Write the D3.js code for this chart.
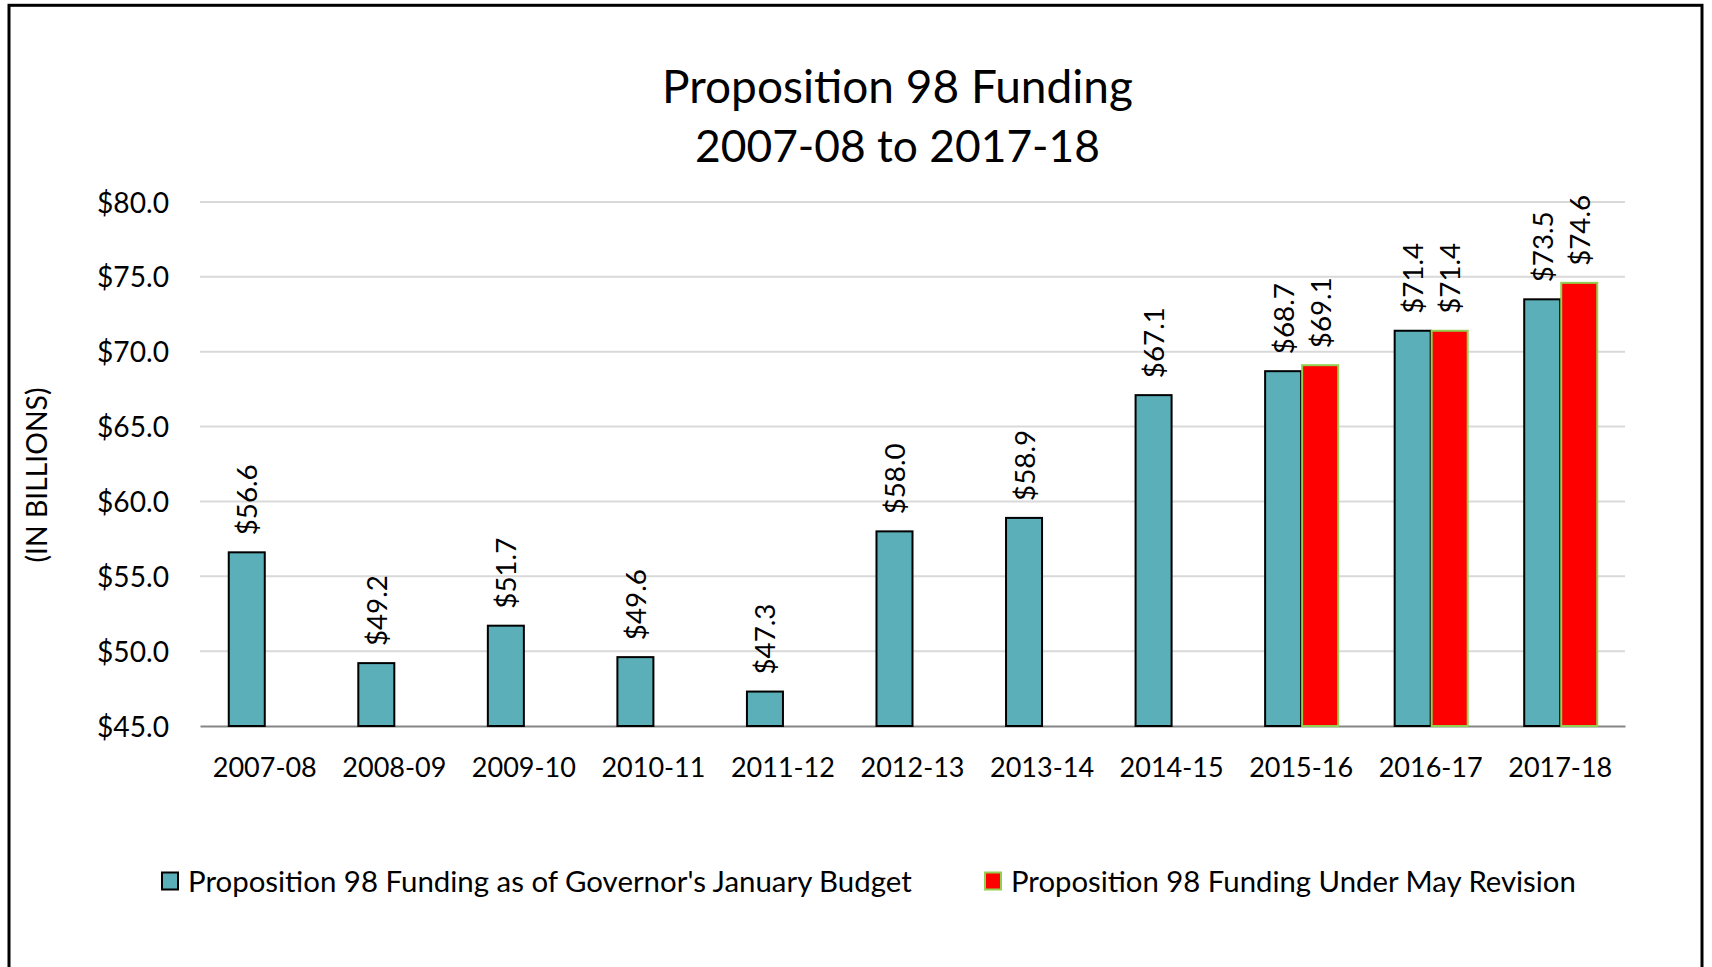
<!DOCTYPE html>
<html>
<head>
<meta charset="utf-8">
<script src="https://cdn.jsdelivr.net/npm/d3@7"></script>
<style>
  html, body { margin: 0; padding: 0; background: #fff; }
  svg { display: block; }
  text { font-family: Lato, "Open Sans", sans-serif; fill: #000; }
</style>
</head>
<body>
<svg id="chart" width="1712" height="967"></svg>
<script>
// ---- data ----
const categories = ["2007-08","2008-09","2009-10","2010-11","2011-12","2012-13","2013-14","2014-15","2015-16","2016-17","2017-18"];
const januaryBudget = [56.6, 49.2, 51.7, 49.6, 47.3, 58.0, 58.9, 67.1, 68.7, 71.4, 73.5];
const mayRevision   = [null, null, null, null, null, null, null, null, 69.1, 71.4, 74.6];
const seriesNames = ["Proposition 98 Funding as of Governor's January Budget", "Proposition 98 Funding Under May Revision"];
const yTicks = [45, 50, 55, 60, 65, 70, 75, 80];
const titleLines = ["Proposition 98 Funding", "2007-08 to 2017-18"];
const yAxisTitle = "(IN BILLIONS)";

// ---- layout ----
const svg = d3.select("#chart");
const W = 1712, H = 967;
const plot = { left: 200, right: 1625, top: 202, bottom: 726 };
const colors = ["#5BAFB9", "#FF0000"];
const strokes = ["#000000", "#92D050"];

// fit a text element's font-size so that its width equals target
function fit(sel, target) {
  sel.each(function() {
    const el = this;
    const fs = parseFloat(el.getAttribute("font-size")) || 20;
    const len = el.getComputedTextLength();
    if (len > 0) el.setAttribute("font-size", (fs * target / len).toFixed(2));
  });
}

svg.append("rect").attr("x", 0).attr("y", 0).attr("width", W).attr("height", H).attr("fill", "#fff");
// frame
svg.append("rect").attr("x", 9).attr("y", 5.3).attr("width", 1693).attr("height", 1000)
  .attr("fill", "none").attr("stroke", "#000").attr("stroke-width", 3);

// scales
const x0 = d3.scaleBand().domain(categories).range([plot.left, plot.right]).paddingInner(0).paddingOuter(0);
const x1 = d3.scaleBand().domain([0, 1]).range([0, x0.bandwidth()]).paddingInner(0).paddingOuter(0.75);
const y = d3.scaleLinear().domain([45, 80]).range([plot.bottom, plot.top]);

// gridlines
svg.append("g").selectAll("line").data(yTicks.filter(t => t > 45)).join("line")
  .attr("x1", plot.left).attr("x2", plot.right)
  .attr("y1", d => y(d)).attr("y2", d => y(d))
  .attr("stroke", "#D9D9D9").attr("stroke-width", 2);

// y axis
const yAxis = svg.append("g").attr("transform", `translate(${plot.left},0)`)
  .call(d3.axisLeft(y).tickValues(yTicks).tickFormat(d => "$" + d3.format(".1f")(d)).tickSize(0).tickPadding(31));
yAxis.select(".domain").remove();
yAxis.selectAll("text").attr("font-family", "Lato").attr("font-size", 28).attr("fill", "#000").attr("dy", "0.36em");
const tickLen = yAxis.selectAll("text").filter(d => d === 80).node().getComputedTextLength();
yAxis.selectAll("text").attr("font-size", 28 * 72 / tickLen);

// x axis
const xAxis = svg.append("g").attr("transform", `translate(0,${plot.bottom})`)
  .call(d3.axisBottom(x0).tickSize(0).tickPadding(0));
xAxis.select(".domain").attr("stroke", "#868686").attr("stroke-width", 2);
xAxis.selectAll("text").attr("font-family", "Lato").attr("font-size", 28).attr("fill", "#000")
  .attr("dy", 0).attr("y", 777 - plot.bottom);
const xl = xAxis.selectAll("text").filter(d => d === "2007-08").node().getComputedTextLength();
xAxis.selectAll("text").attr("font-size", 28 * 104 / xl);

// bars
const rows = categories.map((c, i) => ({ cat: c, vals: [januaryBudget[i], mayRevision[i]] }));
const groups = svg.append("g").selectAll("g").data(rows).join("g")
  .attr("transform", d => `translate(${x0(d.cat)},0)`);
groups.selectAll("rect").data(d => d.vals.map((v, s) => ({ v, s })).filter(e => e.v !== null)).join("rect")
  .attr("x", e => x1(e.s) + 1).attr("width", x1.bandwidth() - 1)
  .attr("y", e => y(e.v)).attr("height", e => plot.bottom - y(e.v))
  .attr("fill", e => colors[e.s]).attr("stroke", e => strokes[e.s]).attr("stroke-width", 2);

// data labels
const lbls = groups.selectAll("text").data(d => d.vals.map((v, s) => ({ v, s })).filter(e => e.v !== null)).join("text")
  .attr("transform", e => `translate(${x1(e.s) + x1.bandwidth() / 2 + 1},${y(e.v) - 17}) rotate(-90)`)
  .attr("dy", "0.36em").attr("text-anchor", "start")
  .attr("font-family", "Lato").attr("font-size", 26)
  .text(e => "$" + d3.format(".1f")(e.v));
const dl = lbls.filter(e => e.v === 56.6).node().getComputedTextLength();
lbls.attr("font-size", 26 * 71 / dl);

// title
const titleTargets = [471, 405];
const title = svg.append("g").selectAll("text").data(titleLines).join("text")
  .attr("x", 897.5).attr("y", (d, i) => [103.3, 161.7][i])
  .attr("text-anchor", "middle").attr("font-family", "Lato").attr("font-size", 44)
  .text(d => d);
title.each(function(d, i) { fit(d3.select(this), titleTargets[i]); });

// y axis title
const yt = svg.append("text")
  .attr("transform", "translate(37,475) rotate(-90)")
  .attr("text-anchor", "middle").attr("dy", "0.36em")
  .attr("font-family", "Lato").attr("font-size", 26).text(yAxisTitle);
fit(yt, 175);

// legend
const legendItems = [
  { name: seriesNames[0], mx: 162, tx: 188, w: 724, s: 0 },
  { name: seriesNames[1], mx: 985, tx: 1011, w: 565, s: 1 }
];
const lg = svg.append("g").selectAll("g").data(legendItems).join("g");
lg.append("rect").attr("x", d => d.mx).attr("y", 872.5).attr("width", 16).attr("height", 17)
  .attr("fill", d => colors[d.s]).attr("stroke", d => strokes[d.s]).attr("stroke-width", 2);
const lt = lg.append("text").attr("x", d => d.tx).attr("y", 881).attr("dy", "0.36em")
  .attr("font-family", "Lato").attr("font-size", 28).text(d => d.name);
lt.each(function(d) { fit(d3.select(this), d.w); });
</script>
</body>
</html>
